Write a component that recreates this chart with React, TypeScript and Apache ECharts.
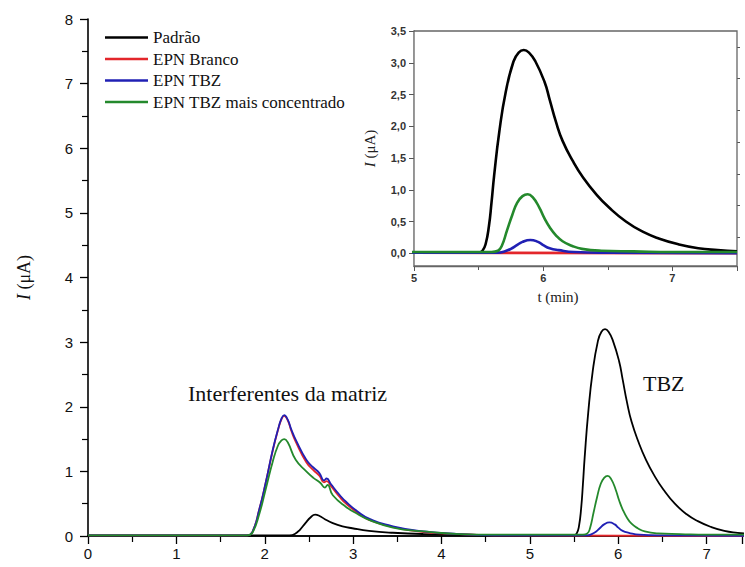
import React, { useEffect, useRef } from "react";
import * as echarts from "echarts";

// ---- data (time in min, current in µA) ----
const tPadrao = [0, 2.28, 2.34, 2.4, 2.46, 2.52, 2.57, 2.62, 2.68, 2.77, 2.88, 2.99, 3.18, 3.45, 3.8, 4.3, 5.0, 5.45, 5.5, 5.53, 5.555, 5.58, 5.6, 5.62, 5.66, 5.71, 5.77, 5.81, 5.85, 5.89, 5.94, 6.01, 6.05, 6.1, 6.15, 6.23, 6.31, 6.41, 6.51, 6.64, 6.77, 6.9, 7.05, 7.2, 7.35, 7.5];
const iPadrao = [0.01, 0.01, 0.03, 0.1, 0.2, 0.29, 0.33, 0.31, 0.26, 0.2, 0.15, 0.12, 0.08, 0.05, 0.03, 0.02, 0.01, 0.01, 0.01, 0.04, 0.15, 0.43, 0.8, 1.22, 1.91, 2.54, 3.02, 3.16, 3.2, 3.16, 3.02, 2.7, 2.42, 2.06, 1.77, 1.45, 1.19, 0.93, 0.72, 0.5, 0.34, 0.23, 0.14, 0.08, 0.05, 0.03];

const tBranco = [0, 1.8, 1.86, 1.94, 2.01, 2.09, 2.15, 2.19, 2.22, 2.26, 2.3, 2.35, 2.47, 2.55, 2.62, 2.67, 2.7, 2.75, 2.85, 2.92, 3.05, 3.18, 3.45, 3.8, 4.2, 4.6, 7.5];
const iBranco = [0.01, 0.01, 0.06, 0.42, 0.82, 1.32, 1.64, 1.81, 1.86, 1.79, 1.63, 1.46, 1.14, 1.02, 0.93, 0.83, 0.85, 0.77, 0.6, 0.5, 0.36, 0.25, 0.14, 0.06, 0.03, 0.01, 0.0];

const tTBZ = [0, 1.8, 1.86, 1.94, 2.01, 2.09, 2.15, 2.19, 2.22, 2.26, 2.3, 2.35, 2.47, 2.55, 2.62, 2.67, 2.7, 2.75, 2.85, 2.92, 3.05, 3.18, 3.45, 3.8, 4.2, 4.6, 5.65, 5.7, 5.75, 5.79, 5.84, 5.9, 5.96, 6.0, 6.05, 6.12, 6.24, 6.5, 7.5];
const iTBZ = [0.01, 0.01, 0.06, 0.42, 0.82, 1.33, 1.65, 1.82, 1.87, 1.8, 1.65, 1.49, 1.18, 1.06, 0.97, 0.86, 0.89, 0.8, 0.63, 0.53, 0.38, 0.27, 0.15, 0.07, 0.03, 0.01, 0.01, 0.03, 0.07, 0.12, 0.18, 0.21, 0.18, 0.13, 0.08, 0.05, 0.02, 0.01, 0.0];

const tConc = [0, 1.8, 1.86, 1.94, 2.01, 2.09, 2.15, 2.19, 2.22, 2.26, 2.35, 2.47, 2.55, 2.63, 2.68, 2.71, 2.77, 2.92, 3.05, 3.18, 3.45, 3.8, 4.2, 4.6, 5.6, 5.65, 5.68, 5.72, 5.76, 5.8, 5.84, 5.88, 5.92, 5.97, 6.01, 6.05, 6.1, 6.15, 6.22, 6.3, 6.45, 6.7, 7.0, 7.5];
const iConc = [0.01, 0.01, 0.05, 0.35, 0.72, 1.15, 1.4, 1.48, 1.5, 1.45, 1.18, 1.0, 0.9, 0.82, 0.75, 0.79, 0.63, 0.45, 0.34, 0.25, 0.13, 0.07, 0.03, 0.02, 0.02, 0.04, 0.12, 0.36, 0.6, 0.8, 0.9, 0.93, 0.88, 0.72, 0.55, 0.41, 0.28, 0.19, 0.12, 0.07, 0.04, 0.03, 0.02, 0.02];

const seriesNames = ["Padrão", "EPN Branco", "EPN TBZ", "EPN TBZ mais concentrado"];
const seriesColors = ["#000000", "#e3262b", "#2020b4", "#24892c"];
const seriesTimes = [tPadrao, tBranco, tTBZ, tConc];
const seriesValues = [iPadrao, iBranco, iTBZ, iConc];

const insetYTicks = [0, 0.5, 1, 1.5, 2, 2.5, 3, 3.5];
const insetYMinorTicks = [0.25, 0.75, 1.25, 1.75, 2.25, 2.75, 3.25];

const SANS = "Liberation Sans";
const SERIF = "Liberation Serif";

const zip = (t: number[], v: number[]) => t.map((x, i) => [x, v[i]]);

export default function App() {
  const ref = useRef<HTMLDivElement>(null);
  useEffect(() => {
    if (!ref.current) return;
    const chart = echarts.init(ref.current, undefined, { renderer: "svg" });
    const mk = (k: number, xi: number, yi: number, w: number) => ({
      type: "line",
      name: seriesNames[k],
      xAxisIndex: xi,
      yAxisIndex: yi,
      data: zip(seriesTimes[k], seriesValues[k]),
      showSymbol: false,
      smooth: 0.5,
      clip: true,
      lineStyle: { color: seriesColors[k], width: w },
      itemStyle: { color: seriesColors[k] },
      z: 3 + k,
    });
    const mainSeries = seriesNames.map((_, k) => mk(k, 0, 0, 1.8));
    const insetSeries = seriesNames.map((_, k) => mk(k, 2, 1, 2.6));
    chart.setOption({
      animation: false,
      backgroundColor: "#ffffff",
      textStyle: { fontFamily: SERIF },
      grid: [
        { left: 88, right: 0, top: 19, bottom: 31 },
        {
          left: 414,
          right: 8,
          top: 31,
          bottom: 301,
          show: true,
          backgroundColor: "#ffffff",
          borderColor: "#666666",
          borderWidth: 1.3,
          z: 2,
        },
      ],
      legend: {
        data: seriesNames,
        orient: "vertical",
        left: 100,
        top: 24,
        icon: "rect",
        itemWidth: 43,
        itemHeight: 2.5,
        itemGap: 4.5,
        textStyle: {
          fontFamily: SERIF,
          fontSize: 17,
          color: "#111",
          lineHeight: 17,
        },
      },
      xAxis: [
        {
          type: "value",
          gridIndex: 0,
          min: 0,
          max: 7.4,
          interval: 1,
          axisLine: { show: true, onZero: false, lineStyle: { color: "#000", width: 1.6 } },
          axisTick: { show: true, inside: false, length: 8, lineStyle: { color: "#000", width: 1.3 } },
          minorTick: { show: true, splitNumber: 2, length: 6, lineStyle: { color: "#000", width: 1.2 } },
          axisLabel: {
            fontFamily: SANS,
            fontSize: 15,
            color: "#111",
            margin: 10,
            formatter: (v: number) => (Number.isInteger(v) ? String(v) : ""),
          },
          splitLine: { show: false },
        },
        {
          type: "value",
          gridIndex: 0,
          position: "top",
          min: 0,
          max: 7.4,
          axisLine: { show: true, lineStyle: { color: "#000", width: 1.6 } },
          axisTick: { show: false },
          axisLabel: { show: false },
          splitLine: { show: false },
        },
        {
          type: "value",
          gridIndex: 1,
          min: 5,
          max: 7.5,
          interval: 1,
          axisLine: { show: true, onZero: false, lineStyle: { color: "#666", width: 1.3 } },
          axisTick: { show: true, inside: false, length: 5, lineStyle: { color: "#555", width: 1 } },
          minorTick: { show: true, splitNumber: 2, length: 4, lineStyle: { color: "#555", width: 1 } },
          axisLabel: {
            fontFamily: SANS,
            fontSize: 11,
            fontWeight: "bold",
            color: "#333",
            margin: 6,
            formatter: (v: number) => (Number.isInteger(v) ? String(v) : ""),
          },
          splitLine: { show: false },
        },
      ],
      yAxis: [
        {
          type: "value",
          gridIndex: 0,
          min: 0,
          max: 8,
          interval: 1,
          axisLine: { show: true, onZero: false, lineStyle: { color: "#000", width: 1.6 } },
          axisTick: { show: true, inside: false, length: 8, lineStyle: { color: "#000", width: 1.3 } },
          minorTick: { show: true, splitNumber: 2, length: 6, lineStyle: { color: "#000", width: 1.2 } },
          axisLabel: { fontFamily: SANS, fontSize: 15, color: "#111", margin: 15 },
          splitLine: { show: false },
          name: "{i|I} (μA)",
          nameLocation: "middle",
          nameGap: 55,
          nameTextStyle: {
            fontFamily: SERIF,
            fontSize: 18,
            color: "#111",
            rich: { i: { fontFamily: SERIF, fontSize: 18, fontStyle: "italic", color: "#111" } },
          },
        },
        {
          type: "value",
          gridIndex: 1,
          min: -0.2,
          max: 3.5,
          axisLine: { show: true, onZero: false, lineStyle: { color: "#666", width: 1.3 } },
          axisTick: { show: true, inside: false, length: 5, customValues: insetYTicks, lineStyle: { color: "#555", width: 1 } },
          axisLabel: {
            fontFamily: SANS,
            fontSize: 11,
            fontWeight: "bold",
            color: "#333",
            margin: 8,
            customValues: insetYTicks,
            formatter: (v: number) => v.toFixed(1).replace(".", ","),
          },
          splitLine: { show: false },
          name: "{i|I} (μA)",
          nameLocation: "middle",
          nameGap: 37,
          nameTextStyle: {
            fontFamily: SERIF,
            fontSize: 15,
            color: "#222",
            rich: { i: { fontFamily: SERIF, fontSize: 15, fontStyle: "italic", color: "#222" } },
          },
        },
        {
          type: "value",
          gridIndex: 1,
          min: -0.2,
          max: 3.5,
          axisLine: { show: false },
          axisTick: { show: true, inside: false, length: 3, customValues: insetYMinorTicks, lineStyle: { color: "#555", width: 1 } },
          axisLabel: { show: false },
          splitLine: { show: false },
        },
      ],
      graphic: [
        {
          type: "text",
          x: 188,
          y: 393,
          style: { text: "Interferentes da matriz", fontFamily: SERIF, fontSize: 22, fill: "#111", align: "left", verticalAlign: "middle" },
        },
        {
          type: "text",
          x: 643,
          y: 383,
          style: { text: "TBZ", fontFamily: SERIF, fontSize: 22, fill: "#111", align: "left", verticalAlign: "middle" },
        },
        {
          type: "text",
          x: 558,
          y: 297,
          style: { text: "t (min)", fontFamily: SERIF, fontSize: 15, fill: "#222", align: "center", verticalAlign: "middle" },
        },
      ],
      series: [...mainSeries, ...insetSeries],
    });
    return () => chart.dispose();
  }, []);
  return <div ref={ref} style={{ position: "fixed", left: 0, top: 0, width: 745, height: 567 }} />;
}
